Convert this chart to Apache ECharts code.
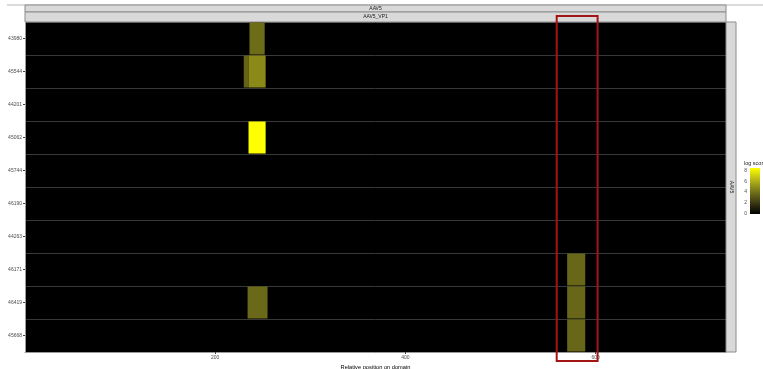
<!DOCTYPE html>
<html>
<head>
<meta charset="utf-8">
<script src="https://cdn.jsdelivr.net/npm/echarts@6/dist/echarts.min.js"></script>
<style>
  html, body { margin: 0; padding: 0; background: #ffffff; }
  #chart { width: 763px; height: 369px; }
</style>
</head>
<body>
<div id="chart"></div>
<script>
// Domain rows (top to bottom)
const rowIds = ['43980', '45544', '44201', '45062', '45744', '46190', '44263', '46171', '46419', '45668'];

// Scored segments: row, start / end position on the domain, log score
const segRow   = ['43980', '45544', '45544', '45062', '46419', '46171', '46419', '45668'];
const segStart = [236, 230, 235, 235, 234, 570, 570, 570];
const segEnd   = [252, 235, 253, 253, 255, 589, 589, 589];
const segScore = [3.8, 3.5, 4.8, 8.4, 3.7, 3.6, 3.6, 3.6];

// Axis settings
const xMin = 0, xMax = 737, xStep = 200;
const xTicks = [200, 400, 600];
const scoreMax = 8.4;
const scoreTicks = [0, 2, 4, 6, 8];

// Highlighted window on the domain
const boxFrom = 559, boxTo = 602;

// black -> yellow ramp (Lab-like interpolation)
const ramp = ['#000000', '#3d3b15', '#78771a', '#b9b818', '#ffff00'];

const FONT = 'Liberation Sans, Arial, sans-serif';
const chart = echarts.init(document.getElementById('chart'), null, { renderer: 'canvas' });

const segData = segRow.map((r, i) => [segStart[i], segEnd[i], rowIds.indexOf(r), segScore[i]]);

const option = {
  backgroundColor: '#ffffff',
  animation: false,
  grid: [
    { left: 25, right: 37, top: 22, bottom: 17, show: true, backgroundColor: '#000000', borderWidth: 0,
      containLabel: false, outerBoundsMode: 'none' },
    { left: 750, top: 168, width: 10, height: 46, show: false, containLabel: false, outerBoundsMode: 'none' }
  ],
  visualMap: {
    show: false,
    type: 'continuous',
    min: 0,
    max: scoreMax,
    dimension: 3,
    seriesIndex: 0,
    inRange: { color: ramp }
  },
  xAxis: [
    {
      type: 'value', gridIndex: 0, min: xMin, max: xMax, interval: xStep,
      name: 'Relative position on domain', nameLocation: 'middle', nameGap: 9,
      nameTextStyle: { fontFamily: FONT, fontSize: 5.7, color: '#000000' },
      axisLine: { show: true, lineStyle: { color: '#9a9a9a', width: 1 } },
      axisTick: { show: true, length: 2, customValues: xTicks, lineStyle: { color: '#444444' } },
      axisLabel: {
        fontFamily: FONT, fontSize: 5, color: '#4d4d4d', margin: 3,
        customValues: xTicks
      },
      splitLine: { show: false }
    },
    { type: 'value', gridIndex: 1, show: false, min: 0, max: 1 }
  ],
  yAxis: [
    {
      type: 'category', gridIndex: 0, data: rowIds, inverse: true,
      axisLine: { show: true, lineStyle: { color: '#9a9a9a', width: 1 } },
      axisTick: { show: true, length: 2, alignWithLabel: true, lineStyle: { color: '#444444' } },
      axisLabel: { fontFamily: FONT, fontSize: 5, color: '#4d4d4d', margin: 3 },
      splitLine: { show: true, lineStyle: { color: '#383838', width: 1 } }
    },
    {
      type: 'value', gridIndex: 1, min: 0, max: scoreMax, interval: 2,
      axisLine: { show: false },
      axisTick: { show: false },
      splitLine: { show: false },
      axisLabel: {
        fontFamily: FONT, fontSize: 5, color: '#4d4d4d', margin: 3,
        customValues: scoreTicks
      }
    }
  ],
  series: [
    {
      type: 'custom',
      xAxisIndex: 0, yAxisIndex: 0,
      encode: { x: [0, 1], y: 2 },
      data: segData,
      renderItem: function (params, api) {
        const a = api.coord([api.value(0), api.value(2)]);
        const b = api.coord([api.value(1), api.value(2)]);
        const h = api.size([0, 1])[1];
        return {
          type: 'rect',
          shape: { x: a[0], y: a[1] - h / 2 + 0.5, width: b[0] - a[0], height: h - 1 },
          style: { fill: api.visual('color') }
        };
      }
    },
    {
      // colour bar of the score scale
      type: 'custom',
      xAxisIndex: 1, yAxisIndex: 1,
      data: [[0, scoreMax]],
      renderItem: function (params, api) {
        const lo = api.coord([0, api.value(0)]);
        const hi = api.coord([1, api.value(1)]);
        return {
          type: 'rect',
          shape: { x: lo[0], y: hi[1], width: hi[0] - lo[0], height: lo[1] - hi[1] },
          style: {
            fill: new echarts.graphic.LinearGradient(0, 1, 0, 0,
              ramp.map((c, i) => ({ offset: i / (ramp.length - 1), color: c })))
          }
        };
      }
    }
  ]
};

chart.setOption(option);

// facet strips, frame and the highlight box
const gridLeft = 25, gridRight = 726, gridTop = 22, gridBottom = 352;
const bx0 = chart.convertToPixel({ xAxisIndex: 0 }, boxFrom);
const bx1 = chart.convertToPixel({ xAxisIndex: 0 }, boxTo);

chart.setOption({
  graphic: [
    { type: 'line', shape: { x1: 7, y1: 5, x2: 763, y2: 5 }, style: { stroke: '#b5b5b5', lineWidth: 1 } },
    { type: 'rect', shape: { x: gridLeft, y: 5, width: gridRight - gridLeft, height: 7 },
      style: { fill: '#d9d9d9', stroke: '#8c8c8c', lineWidth: 1 } },
    { type: 'rect', shape: { x: gridLeft, y: 12, width: gridRight - gridLeft, height: 10 },
      style: { fill: '#d9d9d9', stroke: '#8c8c8c', lineWidth: 1 } },
    { type: 'text', x: (gridLeft + gridRight) / 2, y: 8.5,
      style: { text: 'AAV5', fontFamily: FONT, fontSize: 5, fill: '#1a1a1a', align: 'center', verticalAlign: 'middle' } },
    { type: 'text', x: (gridLeft + gridRight) / 2, y: 17,
      style: { text: 'AAV5_VP1', fontFamily: FONT, fontSize: 5, fill: '#1a1a1a', align: 'center', verticalAlign: 'middle' } },
    { type: 'rect', shape: { x: gridRight, y: gridTop, width: 10, height: gridBottom - gridTop },
      style: { fill: '#d9d9d9', stroke: '#8c8c8c', lineWidth: 1 } },
    { type: 'text', x: gridRight + 5, y: 187, rotation: -Math.PI / 2,
      style: { text: 'AAV5', fontFamily: FONT, fontSize: 5, fill: '#1a1a1a', align: 'center', verticalAlign: 'middle' } },
    { type: 'text', x: 744, y: 163,
      style: { text: 'log score', fontFamily: FONT, fontSize: 5.5, fill: '#1a1a1a', align: 'left', verticalAlign: 'middle' } },
    { type: 'rect', z: 100, shape: { x: bx0, y: 16, width: bx1 - bx0, height: 345 },
      style: { fill: 'none', stroke: '#a31515', lineWidth: 2 } }
  ]
});
</script>
</body>
</html>
